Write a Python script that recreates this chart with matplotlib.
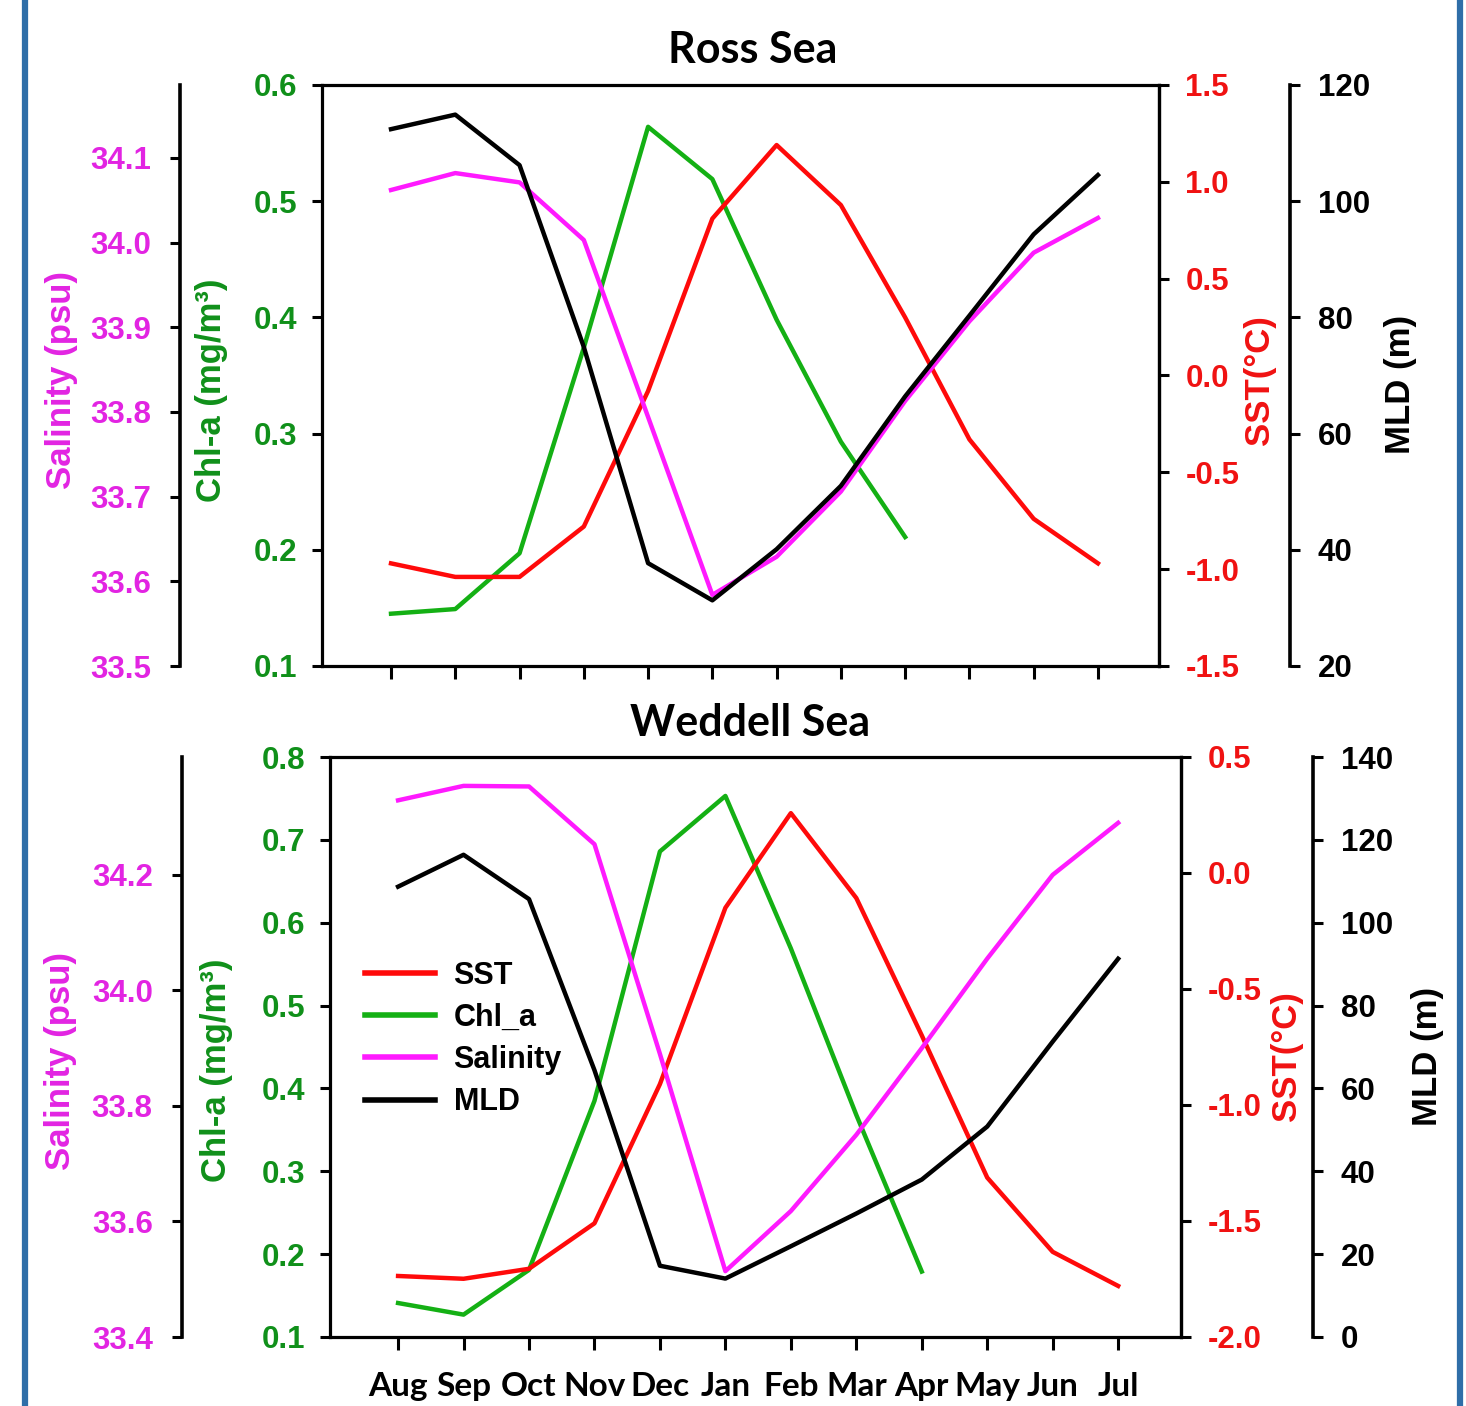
import math

import matplotlib
matplotlib.use("Agg")
import matplotlib.pyplot as plt
from matplotlib.lines import Line2D

NAN = math.nan

months = ["Aug", "Sep", "Oct", "Nov", "Dec", "Jan", "Feb", "Mar", "Apr", "May", "Jun", "Jul"]

# Ross Sea
ross_sst = [-0.97, -1.04, -1.04, -0.78, -0.08, 0.81, 1.19, 0.88, 0.30, -0.33, -0.74, -0.97]
ross_chl = [0.145, 0.149, 0.197, 0.374, 0.564, 0.519, 0.398, 0.293, 0.211, NAN, NAN, NAN]
ross_sal = [34.062, 34.082, 34.071, 34.003, 33.794, 33.584, 33.629, 33.706, 33.813, 33.907, 33.988, 34.029]
ross_mld = [112.4, 114.9, 106.2, 74.9, 37.7, 31.3, 40.1, 51.0, 66.4, 80.3, 94.3, 104.5]

# Weddell Sea
wed_sst = [-1.737, -1.749, -1.706, -1.510, -0.91, -0.150, 0.258, -0.108, -0.70, -1.313, -1.633, -1.780]
wed_chl = [0.141, 0.127, 0.181, 0.385, 0.686, 0.753, 0.569, 0.368, 0.179, NAN, NAN, NAN]
wed_sal = [34.329, 34.354, 34.353, 34.253, 33.890, 33.514, 33.618, 33.750, 33.900, 34.055, 34.200, 34.290]
wed_mld = [108.7, 116.4, 105.7, 64.4, 17.2, 14.1, 21.9, 29.8, 38.0, 50.8, 71.3, 91.3]

ross_ticks = {
    "chl": [0.1, 0.2, 0.3, 0.4, 0.5, 0.6],
    "sst": [-1.5, -1.0, -0.5, 0.0, 0.5, 1.0, 1.5],
    "sal": [33.5, 33.6, 33.7, 33.8, 33.9, 34.0, 34.1],
    "mld": [20, 40, 60, 80, 100, 120],
}
wed_ticks = {
    "chl": [0.1, 0.2, 0.3, 0.4, 0.5, 0.6, 0.7, 0.8],
    "sst": [-2.0, -1.5, -1.0, -0.5, 0.0, 0.5],
    "sal": [33.4, 33.6, 33.8, 34.0, 34.2],
    "mld": [0, 20, 40, 60, 80, 100, 120, 140],
}

W, H = 1466, 1406

RED = "#ff0a0a"
GREEN = "#14b014"
MAGENTA = "#ff1aff"
TXT_RED = "#f01212"
TXT_GREEN = "#10901a"
TXT_MAGENTA = "#e224e2"
BORDER = "#2f6ea8"

ARIAL = ["Liberation Sans", "DejaVu Sans"]
CALIBRI = ["Lato", "DejaVu Sans"]

LW = 3.2


def px_box(left, right, top, bottom):
    return [left / W, 1 - bottom / H, (right - left) / W, (bottom - top) / H]


def style_ticks(axis_obj, color, pad):
    axis_obj.tick_params(axis="y", colors="black", labelcolor=color, direction="out",
                         length=7, width=2.2, pad=pad, labelsize=22.5)
    for lab in axis_obj.get_yticklabels():
        lab.set_family(ARIAL)
        lab.set_fontweight("bold")


def draw_panel(fig, box, title, title_x, title_pad, sst, chl, sal, mld, lims, ticks,
               xlim, sal_pos, mld_pos, label_x, label_y, show_months, legend):
    x = list(range(len(months)))

    ax = fig.add_axes(box)
    ax.set_xlim(*xlim)
    ax.set_xticks(x)
    if show_months:
        ax.set_xticklabels(months, family=CALIBRI, fontweight="bold", fontsize=24)
    else:
        ax.set_xticklabels([])
    ax.tick_params(axis="x", direction="out", length=9, width=2.2, pad=16)
    for sp in ax.spines.values():
        sp.set_linewidth(2.3)

    # Chl-a on the main (left) axis
    ax.plot(x, chl, color=GREEN, lw=LW, label="Chl_a")
    ax.set_ylim(*lims["chl"])
    ax.set_yticks(ticks["chl"])
    ax.set_yticklabels([f"{v:.1f}" for v in ticks["chl"]])
    style_ticks(ax, TXT_GREEN, 11)
    ax.set_ylabel("Chl-a (mg/m³)", color=TXT_GREEN, fontsize=25, fontweight="bold", family=ARIAL)
    ax.yaxis.set_label_coords(label_x["chl"], label_y["chl"])

    # SST on the right spine
    ax_sst = ax.twinx()
    ax_sst.plot(x, sst, color=RED, lw=LW, label="SST")
    ax_sst.set_ylim(*lims["sst"])
    ax_sst.set_yticks(ticks["sst"])
    ax_sst.set_yticklabels([f"{v:.1f}" for v in ticks["sst"]])
    style_ticks(ax_sst, TXT_RED, 12)
    for name in ("left", "top", "bottom"):
        ax_sst.spines[name].set_visible(False)
    ax_sst.spines["right"].set_linewidth(2.3)
    ax_sst.set_ylabel("SST(°C)", color=TXT_RED, fontsize=25, fontweight="bold", family=ARIAL)
    ax_sst.yaxis.set_label_coords(label_x["sst"], label_y["sst"])

    # Salinity on a detached left spine
    ax_sal = ax.twinx()
    ax_sal.plot(x, sal, color=MAGENTA, lw=LW, label="Salinity")
    ax_sal.set_ylim(*lims["sal"])
    ax_sal.set_yticks(ticks["sal"])
    ax_sal.set_yticklabels([f"{v:.1f}" for v in ticks["sal"]])
    ax_sal.yaxis.tick_left()
    ax_sal.yaxis.set_label_position("left")
    for name in ("right", "top", "bottom"):
        ax_sal.spines[name].set_visible(False)
    ax_sal.spines["left"].set_visible(True)
    ax_sal.spines["left"].set_position(("axes", sal_pos))
    ax_sal.spines["left"].set_linewidth(2.6)
    style_ticks(ax_sal, TXT_MAGENTA, 14)
    ax_sal.set_ylabel("Salinity (psu)", color=TXT_MAGENTA, fontsize=25, fontweight="bold", family=ARIAL)
    ax_sal.yaxis.set_label_coords(label_x["sal"], label_y["sal"])

    # MLD on a detached right spine
    ax_mld = ax.twinx()
    ax_mld.plot(x, mld, color="black", lw=LW, label="MLD")
    ax_mld.set_ylim(*lims["mld"])
    ax_mld.set_yticks(ticks["mld"])
    ax_mld.set_yticklabels([str(v) for v in ticks["mld"]])
    for name in ("left", "top", "bottom"):
        ax_mld.spines[name].set_visible(False)
    ax_mld.spines["right"].set_position(("axes", mld_pos))
    ax_mld.spines["right"].set_linewidth(2.6)
    style_ticks(ax_mld, "black", 13)
    ax_mld.set_ylabel("MLD (m)", color="black", fontsize=25, fontweight="bold", family=ARIAL)
    ax_mld.yaxis.set_label_coords(label_x["mld"], label_y["mld"])

    ax.set_title(title, family=CALIBRI, fontweight="bold", fontsize=31, x=title_x, pad=title_pad)

    if legend:
        handles = []
        for a in (ax_sst, ax, ax_sal, ax_mld):
            handles += a.get_lines()
        leg = ax_mld.legend(handles=handles, labels=[h.get_label() for h in handles],
                            loc="center left", bbox_to_anchor=(0.041, 0.514), frameon=False,
                            borderpad=0, borderaxespad=0, handlelength=2.3, handletextpad=0.6,
                            labelspacing=0.4, prop={"family": ARIAL, "weight": "bold", "size": 22})
        for line in leg.get_lines():
            line.set_linewidth(4)
    return ax


fig = plt.figure(figsize=(W / 100, H / 100), dpi=100)
fig.patch.set_facecolor("white")

draw_panel(
    fig, px_box(322, 1159, 85, 666), "Ross Sea", 0.515, 16,
    ross_sst, ross_chl, ross_sal, ross_mld,
    lims={"chl": (0.1, 0.6), "sst": (-1.5, 1.5), "sal": (33.5, 34.186), "mld": (20, 120)},
    ticks=ross_ticks, xlim=(-1.074, 11.95), sal_pos=-0.1697, mld_pos=1.1565,
    label_x={"sal": -0.2915, "chl": -0.112, "sst": 1.100, "mld": 1.269},
    label_y={"sal": 0.492, "chl": 0.475, "sst": 0.492, "mld": 0.484},
    show_months=False, legend=False,
)

draw_panel(
    fig, px_box(330, 1181, 757, 1337), "Weddell Sea", 0.4935, 15,
    wed_sst, wed_chl, wed_sal, wed_mld,
    lims={"chl": (0.1, 0.8), "sst": (-2.0, 0.5), "sal": (33.4, 34.404), "mld": (0, 140)},
    ticks=wed_ticks, xlim=(-1.04, 11.96), sal_pos=-0.174, mld_pos=1.155,
    label_x={"sal": -0.297, "chl": -0.114, "sst": 1.105, "mld": 1.270},
    label_y={"sal": 0.476, "chl": 0.46, "sst": 0.484, "mld": 0.483},
    show_months=True, legend=True,
)

# blue frame edges of the original figure panel
for xpix in (25, 1460):
    fig.add_artist(Line2D([xpix / W, xpix / W], [0, 1], transform=fig.transFigure,
                          color=BORDER, lw=4.5))

fig.savefig("out.png", dpi=100)
